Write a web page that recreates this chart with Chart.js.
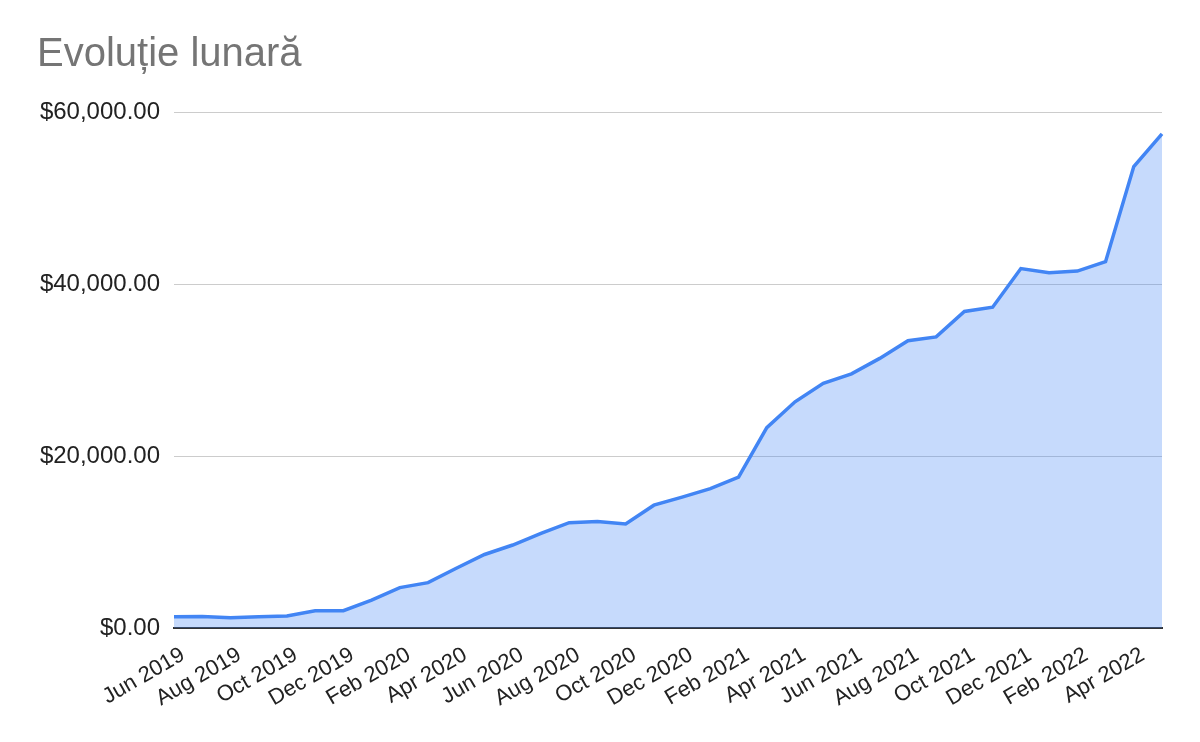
<!DOCTYPE html>
<html>
<head>
<meta charset="utf-8">
<title>Evoluție lunară</title>
<script src="https://cdn.jsdelivr.net/npm/chart.js@4"></script>
<style>
  html, body { margin: 0; padding: 0; background: #fff; }
  #wrap { width: 1200px; height: 742px; }
</style>
</head>
<body>
<div id="wrap"><canvas id="chart"></canvas></div>
<script>
// Months (one point per month)
const months = [
    "Jun 2019", "Jul 2019", "Aug 2019", "Sep 2019", "Oct 2019", "Nov 2019",
    "Dec 2019", "Jan 2020", "Feb 2020", "Mar 2020", "Apr 2020", "May 2020",
    "Jun 2020", "Jul 2020", "Aug 2020", "Sep 2020", "Oct 2020", "Nov 2020",
    "Dec 2020", "Jan 2021", "Feb 2021", "Mar 2021", "Apr 2021", "May 2021",
    "Jun 2021", "Jul 2021", "Aug 2021", "Sep 2021", "Oct 2021", "Nov 2021",
    "Dec 2021", "Jan 2022", "Feb 2022", "Mar 2022", "Apr 2022", "May 2022"
];

// Monthly totals
const totals = [
    1320, 1330, 1200, 1320, 1400, 2000,
    2020, 3250, 4700, 5270, 6950, 8550,
    9650, 11000, 12250, 12380, 12100, 14280,
    15220, 16200, 17550, 23300, 26300, 28450,
    29550, 31350, 33400, 33850, 36800, 37300,
    41800, 41300, 41500, 42600, 53650, 57450
];

// Y axis ticks
const yTicks = [0, 20000, 40000, 60000];

const font = "Arial, 'Liberation Sans', sans-serif";

const ctx = document.getElementById("chart").getContext("2d");

new Chart(ctx, {
    type: "line",
    data: {
        labels: months,
        datasets: [{
            data: totals,
            borderColor: "#4285f4",
            backgroundColor: "rgba(66, 133, 244, 0.3)",
            borderWidth: 3.5,
            fill: "origin",
            pointRadius: 0,
            tension: 0
        }]
    },
    options: {
        responsive: true,
        maintainAspectRatio: false,
        animation: false,
        layout: { padding: { left: 37, right: 38, top: 0, bottom: 0 } },
        plugins: {
            legend: { display: false },
            tooltip: { enabled: false },
            title: {
                display: true,
                text: "Evoluție lunară",
                align: "start",
                color: "#757575",
                font: { family: font, size: 40, weight: "normal" },
                padding: { top: 31, bottom: 33 }
            }
        },
        scales: {
            x: {
                grid: { display: false },
                border: { display: true, color: "#333333", width: 2 },
                ticks: {
                    autoSkip: false,
                    minRotation: 30,
                    maxRotation: 30,
                    padding: 6,
                    labelOffset: 9,
                    color: "#222",
                    font: { family: font, size: 22 },
                    callback: (value, index) => index % 2 === 0 ? months[index] : ""
                },
                afterFit: (scale) => { scale.height = 114; }
            },
            y: {
                min: 0,
                max: 60000,
                afterBuildTicks: (scale) => {
                    scale.ticks = yTicks.map(v => ({ value: v }));
                },
                grid: {
                    color: "#cccccc",
                    lineWidth: 1,
                    drawTicks: false
                },
                border: { display: false },
                ticks: {
                    padding: 14,
                    color: "#222",
                    font: { family: font, size: 24 },
                    callback: (value) => "$" + value.toLocaleString("en-US", { minimumFractionDigits: 2, maximumFractionDigits: 2 })
                },
                afterFit: (scale) => { scale.width = 137; }
            }
        }
    }
});
</script>
</body>
</html>
